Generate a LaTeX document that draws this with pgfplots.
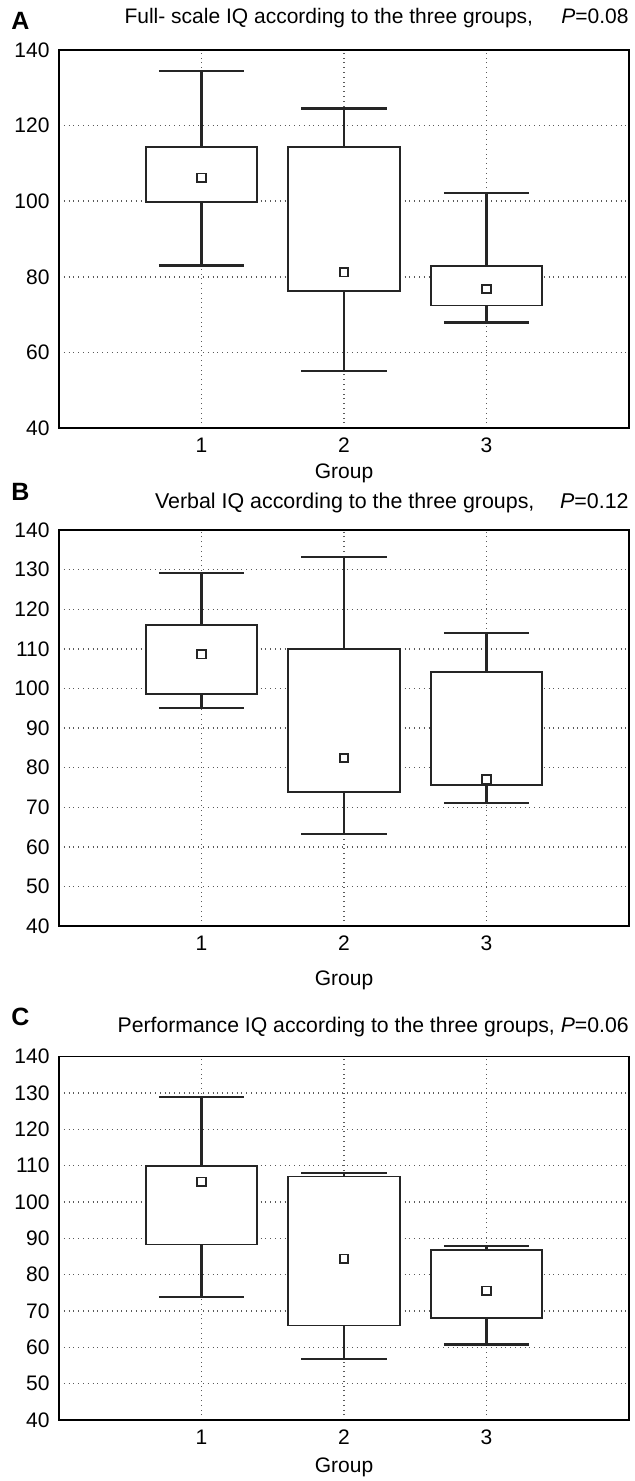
\documentclass[border=0pt]{standalone}
\usepackage{fontspec}
\setmainfont{Liberation Sans}
\usepackage{pgfplots}
\pgfplotsset{compat=1.18}
\usepgfplotslibrary{statistics}

\definecolor{boxc}{HTML}{252525}
\definecolor{gridc}{HTML}{5A5A5A}

\pgfplotsset{
  iqbox/.style={
    scale only axis, width=285pt,
    xmin=0, xmax=4, ymin=40, ymax=140,
    xtick={1,2,3},
    major tick length=0pt,
    grid=major,
    grid style={gridc, dotted, line width=0.7pt},
    axis line style={black, line width=0.8pt},
    tick label style={font=\fontsize{10.5}{12}\selectfont},
    /pgf/number format/assume math mode=true,
    yticklabel style={xshift=-1.2pt},
    xticklabel style={yshift=-1.5pt},
    xlabel={Group},
    xlabel style={font=\fontsize{10.5}{12}\selectfont, at={(axis description cs:0.5,0)}, anchor=base},
    title style={at={(axis description cs:1,1)}, anchor=base east, inner sep=0pt},
    boxplot/draw direction=y,
    boxplot/box extend=0.78,
    boxplot/whisker extend=0.6,
    boxplot/draw/median/.code={},
    boxplot/every whisker/.style={line width=1.1pt},
    boxplot/every box/.style={line width=0.95pt},
    clip=false,
  },
  bx/.style={boxc, fill=white, solid, mark=none, boxplot prepared={#1}},
  med/.style={only marks, mark=square*, mark size=2.1pt, boxc, line width=0.9pt, mark options={fill=white}},
}

\begin{document}
\begin{tikzpicture}
\path[use as bounding box] (0,0) rectangle (317.5pt,-740.5pt);

% ---------- Panel A ----------
\node[anchor=base west, font=\bfseries\fontsize{12.5}{14}\selectfont, inner sep=0pt] at (5.5pt,-15pt) {A};
\begin{axis}[iqbox, at={(29.5pt,-214pt)}, anchor=south west, height=189pt,
  ytick distance=20,
  xlabel style={yshift=-25pt},
  title style={yshift=7pt, font=\fontsize{10.5}{12}\selectfont},
  title={Full- scale IQ according to the three groups,\hspace{1.35em}\textit{P}=0.08}]
\addplot[bx={draw position=1, lower whisker=83.0, lower quartile=99.7, median=106.2, upper quartile=114.3, upper whisker=134.5}] coordinates {};
\addplot[bx={draw position=2, lower whisker=55.1, lower quartile=76.3, median=81.2, upper quartile=114.3, upper whisker=124.5}] coordinates {};
\addplot[bx={draw position=3, lower whisker=67.9, lower quartile=72.4, median=76.8, upper quartile=82.9, upper whisker=102.2}] coordinates {};
\addplot[med] coordinates {(1,106.2) (2,81.2) (3,76.8)};
\end{axis}

% ---------- Panel B ----------
\node[anchor=base west, font=\bfseries\fontsize{12.5}{14}\selectfont, inner sep=0pt] at (5.5pt,-250pt) {B};
\begin{axis}[iqbox, at={(29.5pt,-463pt)}, anchor=south west, height=198pt,
  ytick distance=10,
  xlabel style={yshift=-29.5pt},
  title style={yshift=5pt, font=\fontsize{10.7}{12}\selectfont},
  title={Verbal IQ according to the three groups,\hspace{1.2em}\textit{P}=0.12}]
\addplot[bx={draw position=1, lower whisker=95.1, lower quartile=98.6, median=108.6, upper quartile=116.1, upper whisker=129.1}] coordinates {};
\addplot[bx={draw position=2, lower whisker=63.3, lower quartile=73.8, median=82.4, upper quartile=109.9, upper whisker=133.1}] coordinates {};
\addplot[bx={draw position=3, lower whisker=71.0, lower quartile=75.6, median=77.0, upper quartile=104.1, upper whisker=113.9}] coordinates {};
\addplot[med] coordinates {(1,108.6) (2,82.4) (3,77.0)};
\end{axis}

% ---------- Panel C ----------
\node[anchor=base west, font=\bfseries\fontsize{12.5}{14}\selectfont, inner sep=0pt] at (5.5pt,-512.5pt) {C};
\begin{axis}[iqbox, at={(29.5pt,-710pt)}, anchor=south west, height=181.7pt,
  ytick distance=10,
  xlabel style={yshift=-26pt},
  title style={yshift=6pt, font=\fontsize{10.6}{12}\selectfont},
  title={Performance IQ according to the three groups, \textit{P}=0.06}]
\addplot[bx={draw position=1, lower whisker=73.9, lower quartile=88.3, median=105.6, upper quartile=110.0, upper whisker=128.9}] coordinates {};
\addplot[bx={draw position=2, lower whisker=56.7, lower quartile=66.0, median=84.4, upper quartile=107.0, upper whisker=108.0}] coordinates {};
\addplot[bx={draw position=3, lower whisker=60.8, lower quartile=68.0, median=75.6, upper quartile=86.8, upper whisker=87.8}] coordinates {};
\addplot[med] coordinates {(1,105.6) (2,84.4) (3,75.6)};
\end{axis}
\end{tikzpicture}
\end{document}
